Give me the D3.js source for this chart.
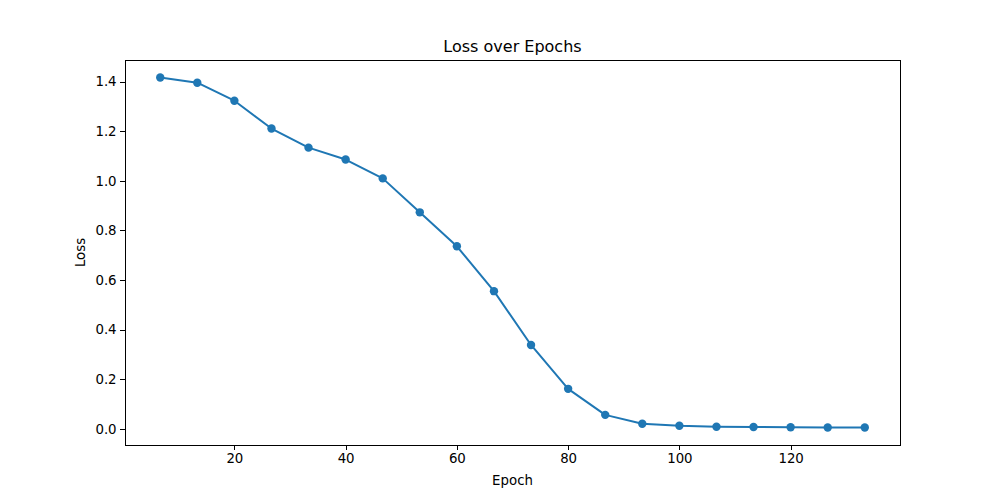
<!DOCTYPE html>
<html><head><meta charset="utf-8">
<script src="https://cdn.jsdelivr.net/npm/d3@7"></script>
<style>body{margin:0;background:#fff}svg text{font-family:"DejaVu Sans",sans-serif;fill:#000}</style>
</head><body>
<svg id="c" width="1000" height="500"></svg>
<script>
const epochs = [6.67,13.33,20,26.67,33.33,40,46.67,53.33,60,66.67,73.33,80,86.67,93.33,100,106.67,113.33,120,126.67,133.33];
const loss = [1.417,1.396,1.3235,1.211,1.134,1.086,1.010,0.873,0.736,0.555,0.338,0.161,0.056,0.020,0.012,0.008,0.007,0.006,0.005,0.005];
const xTicks = [20,40,60,80,100,120];
const yTicks = [0.0,0.2,0.4,0.6,0.8,1.0,1.2,1.4];
const title = "Loss over Epochs", xLabel = "Epoch", yLabel = "Loss";

const L=125,R=900,T=60,B=445;
const svg=d3.select("#c");
const xmin=d3.min(epochs),xmax=d3.max(epochs),ymin=d3.min(loss),ymax=d3.max(loss);
const xm=(xmax-xmin)*0.05, ym=(ymax-ymin)*0.05;
const x=d3.scaleLinear().domain([xmin-xm,xmax+xm]).range([L,R]);
const y=d3.scaleLinear().domain([ymin-ym,ymax+ym]).range([B,T]);
const data=epochs.map((e,i)=>[e,loss[i]]);

const xa=svg.append("g").attr("transform",`translate(0,${B})`)
 .call(d3.axisBottom(x).tickValues(xTicks).tickFormat(d3.format("d")).tickSizeOuter(0).tickSize(4.9).tickPadding(3.5));
const ya=svg.append("g").attr("transform",`translate(${L},0)`)
 .call(d3.axisLeft(y).tickValues(yTicks).tickFormat(d3.format(".1f")).tickSizeOuter(0).tickSize(4.9).tickPadding(3.5));
[xa,ya].forEach(a=>{a.select(".domain").remove();a.selectAll("line").attr("stroke","#000").attr("stroke-width",1).attr("shape-rendering","crispEdges");
 a.selectAll("text").attr("font-size","13.33px").attr("font-family","DejaVu Sans").attr("fill","#000");});

svg.append("path").datum(data).attr("fill","none").attr("stroke","#1f77b4").attr("stroke-width",2)
 .attr("stroke-linejoin","round").attr("d",d3.line().x(d=>x(d[0])).y(d=>y(d[1])));
svg.selectAll("circle.p").data(data).join("circle").attr("class","p")
 .attr("cx",d=>x(d[0])).attr("cy",d=>y(d[1])).attr("r",4.2).attr("fill","#1f77b4");

svg.append("rect").attr("x",L).attr("y",T).attr("width",R-L).attr("height",B-T)
 .attr("fill","none").attr("stroke","#000").attr("stroke-width",1).attr("shape-rendering","crispEdges");

svg.append("text").attr("x",(L+R)/2).attr("y",T-8).attr("text-anchor","middle").attr("font-size","16px").text(title);
svg.append("text").attr("x",(L+R)/2).attr("y",485).attr("text-anchor","middle").attr("font-size","13.33px").text(xLabel);
svg.append("text").attr("transform",`translate(85,${(T+B)/2}) rotate(-90)`).attr("text-anchor","middle").attr("font-size","13.33px").text(yLabel);
</script>
</body></html>
